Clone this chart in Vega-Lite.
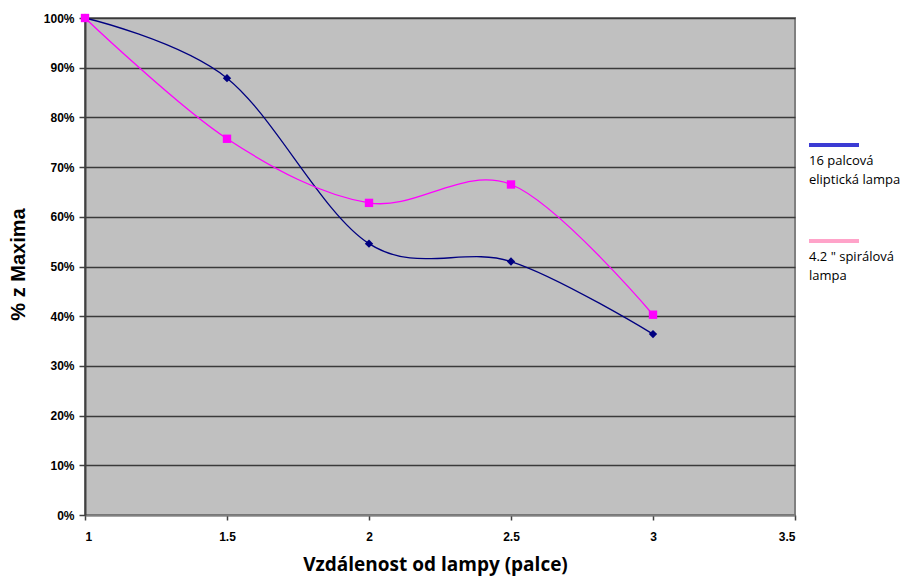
{
  "$schema": "https://vega.github.io/schema/vega-lite/v6.json",
  "width": 710,
  "height": 497,
  "autosize": "none",
  "padding": {"left": 85, "top": 18, "right": 109, "bottom": 62},
  "background": "white",
  "data": {
    "values": [
      {"lampa": "16 palcová|eliptická lampa", "x": 1, "y": 1.0},
      {"lampa": "16 palcová|eliptická lampa", "x": 1.5, "y": 0.879},
      {"lampa": "16 palcová|eliptická lampa", "x": 2, "y": 0.546},
      {"lampa": "16 palcová|eliptická lampa", "x": 2.5, "y": 0.510},
      {"lampa": "16 palcová|eliptická lampa", "x": 3, "y": 0.364},
      {"lampa": "4.2 \" spirálová|lampa", "x": 1, "y": 1.0},
      {"lampa": "4.2 \" spirálová|lampa", "x": 1.5, "y": 0.757},
      {"lampa": "4.2 \" spirálová|lampa", "x": 2, "y": 0.628},
      {"lampa": "4.2 \" spirálová|lampa", "x": 2.5, "y": 0.665},
      {"lampa": "4.2 \" spirálová|lampa", "x": 3, "y": 0.403}
    ]
  },
  "encoding": {
    "x": {
      "field": "x", "type": "quantitative",
      "scale": {"domain": [1, 3.5], "nice": false, "zero": false},
      "axis": {
        "title": "Vzdálenost od lampy (palce)",
        "values": [1, 1.5, 2, 2.5, 3, 3.5],
        "format": "~g",
        "grid": false,
        "domainColor": "#808080", "domainWidth": 2,
        "tickColor": "#404040", "tickSize": 5, "tickWidth": 1.5,
        "labelFont": "Liberation Sans Narrow, Arial Narrow, Liberation Sans",
        "labelFontWeight": "bold", "labelFontSize": 12, "labelColor": "black",
        "labelPadding": 11,
        "titleFont": "Open Sans", "titleFontWeight": "bold", "titleFontSize": 19, "titleColor": "black",
        "titleX": 350, "titleY": 49, "titleBaseline": "middle"
      }
    },
    "y": {
      "field": "y", "type": "quantitative",
      "scale": {"domain": [0, 1], "nice": false},
      "axis": {
        "title": "% z Maxima",
        "values": [0, 0.1, 0.2, 0.3, 0.4, 0.5, 0.6, 0.7, 0.8, 0.9, 1],
        "format": ".0%",
        "grid": true, "gridColor": "#3a3a3a", "gridWidth": 1.5, "gridOpacity": 1,
        "domainColor": "#404040", "domainWidth": 2,
        "tickColor": "#404040", "tickSize": 6, "tickWidth": 1.5,
        "labelFont": "Liberation Sans, Arial", "labelFontWeight": "bold", "labelFontSize": 12, "labelColor": "black",
        "labelPadding": 5,
        "titleFont": "Liberation Sans, Arial", "titleFontWeight": "bold", "titleFontSize": 20, "titleColor": "black",
        "titleX": -67, "titleY": 246, "titleAlign": "center", "titleBaseline": "middle"
      }
    }
  },
  "layer": [
    {
      "mark": {"type": "line", "interpolate": "cardinal", "strokeWidth": 1.3},
      "encoding": {
        "color": {
          "field": "lampa", "type": "nominal",
          "scale": {"domain": ["16 palcová|eliptická lampa", "4.2 \" spirálová|lampa"], "range": ["#000080", "#FF00FF"]},
          "legend": null
        }
      }
    },
    {
      "mark": {"type": "point", "filled": true, "opacity": 1, "size": 70},
      "encoding": {
        "color": {
          "field": "lampa", "type": "nominal",
          "scale": {"domain": ["16 palcová|eliptická lampa", "4.2 \" spirálová|lampa"], "range": ["#000080", "#FF00FF"]},
          "legend": null
        },
        "shape": {
          "field": "lampa", "type": "nominal",
          "scale": {"domain": ["16 palcová|eliptická lampa", "4.2 \" spirálová|lampa"], "range": ["diamond", "square"]},
          "legend": null
        }
      }
    },
    {
      "transform": [{"filter": "datum.x > 100"}],
      "mark": {"type": "line"},
      "encoding": {
        "color": {
          "field": "lampa", "type": "nominal",
          "scale": {"domain": ["16 palcová|eliptická lampa", "4.2 \" spirálová|lampa"], "range": ["#3b3bd4", "#ffa3c9"]},
          "legend": {
            "title": null,
            "orient": "none",
            "legendX": 722,
            "legendY": 100,
            "symbolType": "stroke",
            "symbolSize": 2500,
            "symbolStrokeWidth": 4,
            "labelOffset": -52,
            "labelFont": "Open Sans",
            "labelFontSize": 13,
            "labelColor": "black",
            "labelLimit": 200,
            "labelBaseline": "top",
            "labelExpr": "split(datum.label, '|')",
            "rowPadding": 27,
            "encode": {
              "labels": {"update": {"dy": {"value": 10}, "lineHeight": {"value": 19}}}
            }
          }
        }
      }
    }
  ],
  "resolve": {"scale": {"color": "independent"}, "legend": {"color": "independent"}},
  "config": {
    "view": {"fill": "#c0c0c0", "stroke": "#808080", "strokeWidth": 2}
  }
}
